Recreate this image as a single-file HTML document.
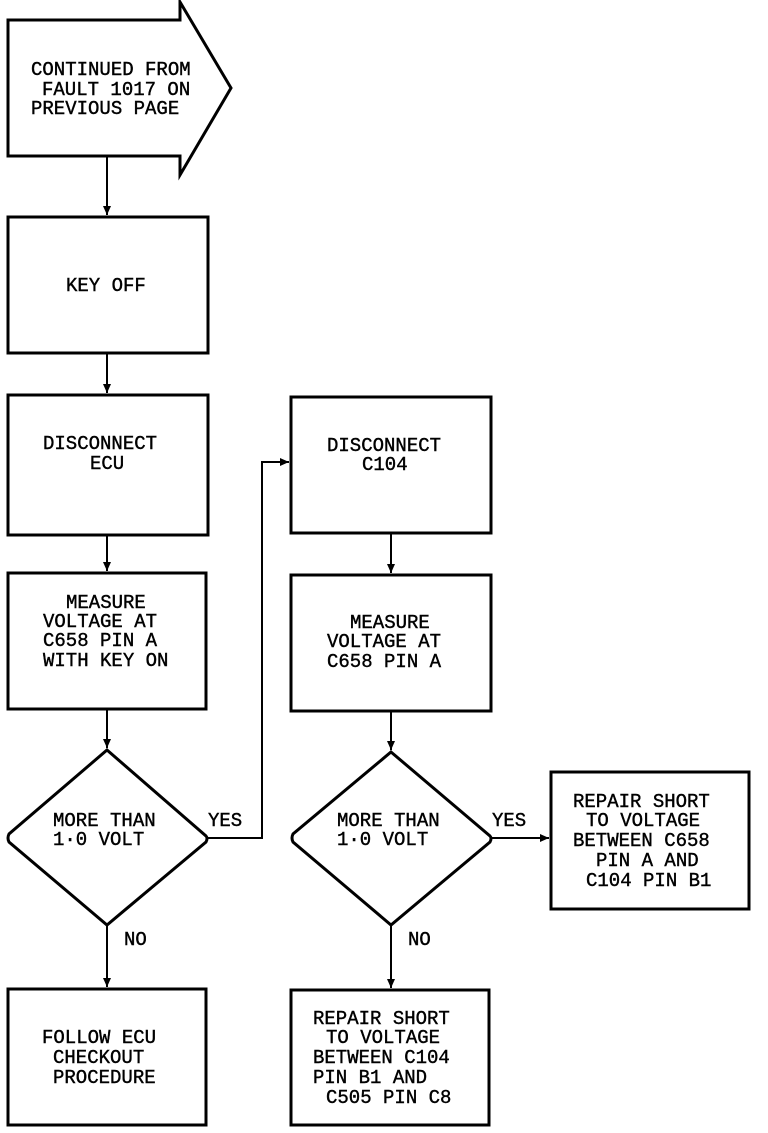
<!DOCTYPE html>
<html><head><style>html,body{margin:0;padding:0;background:#fff}</style></head><body>
<svg width="768" height="1128" viewBox="0 0 768 1128" xmlns="http://www.w3.org/2000/svg">
<defs><marker id="a" markerWidth="10" markerHeight="10" refX="9" refY="5" orient="auto" markerUnits="userSpaceOnUse"><path d="M0,1 L9,5 L0,9 Z" fill="#000"/></marker></defs>
<g fill="none" stroke="#000" stroke-width="3">
<path d="M8,20 H180 V2 L231,88 L180,175 V156 H8 Z"/>
<rect x="8" y="217" width="200" height="136"/>
<rect x="8" y="395" width="200" height="140"/>
<rect x="8" y="573" width="198" height="136"/>
<path d="M107,750 L206,836 Q208,838 206,842 L107,925 L9,842 Q7,838 9,834 Z"/>
<rect x="8" y="989" width="198" height="136"/>
<rect x="291" y="397" width="200" height="136"/>
<rect x="291" y="575" width="200" height="136"/>
<path d="M391,752 L490,836 Q492,838 490,842 L391,925 L293,842 Q291,838 293,834 Z"/>
<rect x="551" y="772" width="198" height="137"/>
<rect x="291" y="990" width="198" height="135"/>
</g>
<g stroke="#000" stroke-width="2" fill="none" marker-end="url(#a)">
<path d="M107,156 V215"/>
<path d="M107,353 V393"/>
<path d="M107,535 V571"/>
<path d="M107,709 V748"/>
<path d="M107,925 V987"/>
<path d="M208,838 H262 V462 H289"/>
<path d="M391,533 V573"/>
<path d="M391,711 V750"/>
<path d="M492,838 H549"/>
<path d="M391,925 V988"/>
</g>
<g font-family="Liberation Mono, monospace" font-size="19" fill="#000" stroke="#000" stroke-width="0.4">
<text x="31" y="75">CONTINUED FROM</text>
<text x="42" y="95">FAULT 1017 ON</text>
<text x="31" y="114">PREVIOUS PAGE</text>
<text x="66" y="291">KEY OFF</text>
<text x="43" y="449">DISCONNECT</text>
<text x="90" y="469">ECU</text>
<text x="66" y="608">MEASURE</text>
<text x="43" y="627">VOLTAGE AT</text>
<text x="43" y="646">C658 PIN A</text>
<text x="43" y="666">WITH KEY ON</text>
<text x="53" y="826">MORE THAN</text>
<text x="53" y="845">1·0 VOLT</text>
<text x="208" y="826">YES</text>
<text x="124" y="945">NO</text>
<text x="42" y="1043">FOLLOW ECU</text>
<text x="53" y="1063">CHECKOUT</text>
<text x="53" y="1083">PROCEDURE</text>
<text x="327" y="451">DISCONNECT</text>
<text x="362" y="470">C104</text>
<text x="350" y="628">MEASURE</text>
<text x="327" y="647">VOLTAGE AT</text>
<text x="327" y="667">C658 PIN A</text>
<text x="337" y="826">MORE THAN</text>
<text x="337" y="845">1·0 VOLT</text>
<text x="492" y="826">YES</text>
<text x="408" y="945">NO</text>
<text x="573" y="807">REPAIR SHORT</text>
<text x="586" y="826">TO VOLTAGE</text>
<text x="573" y="846">BETWEEN C658</text>
<text x="596" y="866">PIN A AND</text>
<text x="586" y="886">C104 PIN B1</text>
<text x="313" y="1024">REPAIR SHORT</text>
<text x="326" y="1043">TO VOLTAGE</text>
<text x="313" y="1063">BETWEEN C104</text>
<text x="313" y="1083">PIN B1 AND</text>
<text x="326" y="1103">C505 PIN C8</text>
</g>
</svg>
</body></html>
